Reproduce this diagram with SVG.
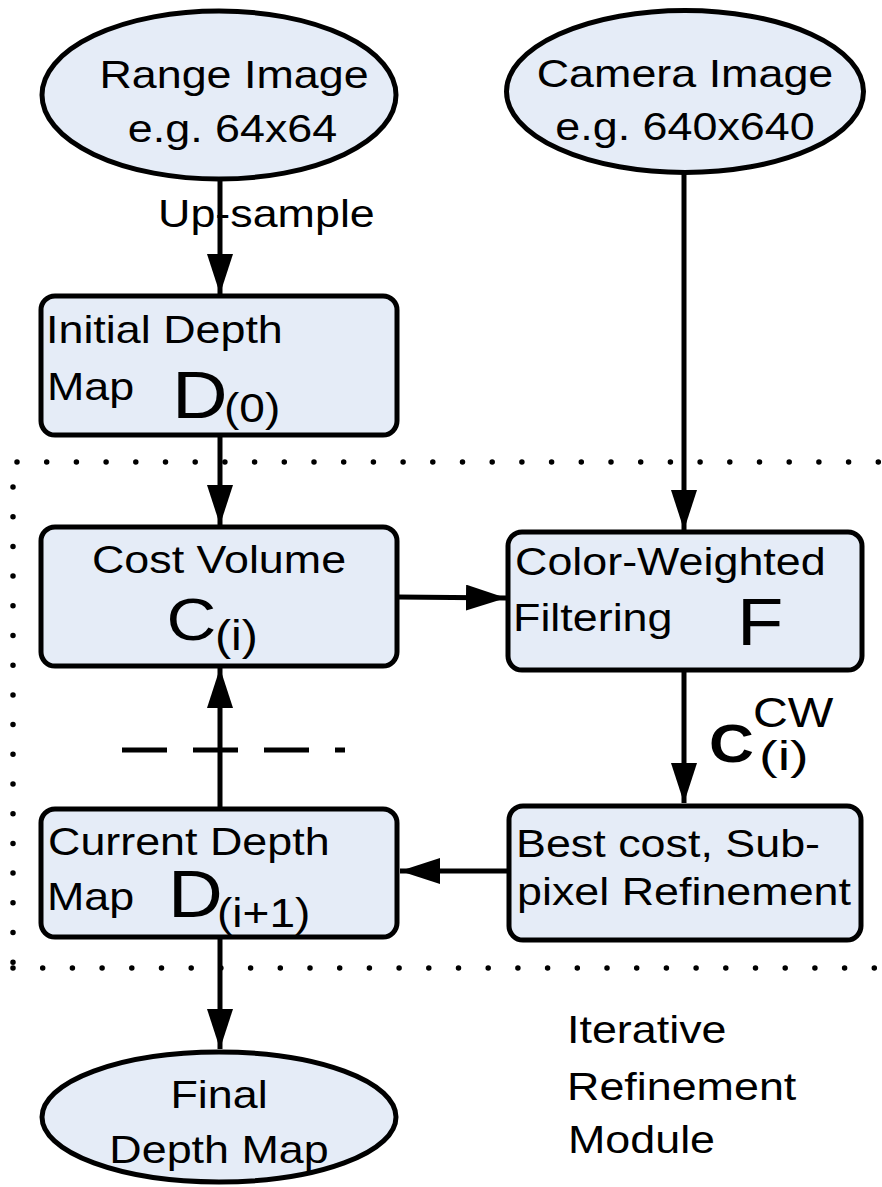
<svg xmlns="http://www.w3.org/2000/svg" width="882" height="1187" viewBox="0 0 882 1187">
<style>
.node{fill:#E5ECF7;stroke:#000;stroke-width:5}
.t{font-family:"Liberation Sans",Arial,sans-serif;font-size:39px;fill:#000}
.c{text-anchor:middle}
.edge{stroke:#000;stroke-width:5;fill:none}
.dot{stroke:#000;stroke-width:5.5;stroke-linecap:round;stroke-dasharray:0 29.7;fill:none}
.dash{stroke:#000;stroke-width:5;stroke-dasharray:45 26;fill:none}
</style>
<defs>
<marker id="ah" markerUnits="userSpaceOnUse" markerWidth="40" markerHeight="26" refX="40" refY="13" orient="auto">
<path d="M0,0 L40,13 L0,26 z" fill="#000"/>
</marker>
</defs>
<rect width="882" height="1187" fill="#fff"/>
<g id="module-frame">
<line class="dot" x1="17" y1="462" x2="880" y2="462"/>
<line class="dot" x1="13" y1="487" x2="13" y2="963"/>
<line class="dot" x1="13" y1="968" x2="876" y2="968"/>
<line class="dash" x1="122" y1="750" x2="345" y2="750"/>
</g>
<g id="connectors">
<line class="edge" x1="220" y1="180" x2="220" y2="294" marker-end="url(#ah)"/>
<line class="edge" x1="220" y1="437" x2="220" y2="525" marker-end="url(#ah)"/>
<line class="edge" x1="684" y1="173" x2="684" y2="530" marker-end="url(#ah)"/>
<line class="edge" x1="398" y1="597" x2="506" y2="598" marker-end="url(#ah)"/>
<line class="edge" x1="684" y1="672" x2="684" y2="803" marker-end="url(#ah)"/>
<line class="edge" x1="508" y1="871" x2="400" y2="871" marker-end="url(#ah)"/>
<line class="edge" x1="220" y1="807" x2="220" y2="668" marker-end="url(#ah)"/>
<line class="edge" x1="220" y1="939" x2="220" y2="1049" marker-end="url(#ah)"/>
<text class="t" transform="translate(158,227) scale(1.15,1)">Up-sample</text>
</g>
<g id="range-image">
<ellipse class="node" cx="219" cy="95" rx="177" ry="84"/>
<text class="t c" transform="translate(234,88) scale(1.15,1)">Range Image</text>
<text class="t c" transform="translate(232.5,142) scale(1.15,1)">e.g. 64x64</text>
</g>
<g id="camera-image">
<ellipse class="node" cx="685" cy="91.5" rx="178.5" ry="81"/>
<text class="t c" transform="translate(685,87) scale(1.15,1)">Camera Image</text>
<text class="t c" transform="translate(685,140) scale(1.15,1)">e.g. 640x640</text>
</g>
<g id="initial-depth">
<rect class="node" x="41" y="296" width="356" height="139" rx="14"/>
<text class="t" transform="translate(46,343) scale(1.15,1)">Initial Depth</text>
<text class="t" transform="translate(47,400) scale(1.15,1)">Map</text>
<text class="t" transform="translate(172,418) scale(1.15,1)" style="font-size:67px">D</text>
<text class="t" transform="translate(224,422) scale(1.15,1)" style="font-size:40px">(0)</text>
</g>
<g id="cost-volume">
<rect class="node" x="41" y="527" width="356" height="139" rx="14"/>
<text class="t c" transform="translate(219,573) scale(1.15,1)">Cost Volume</text>
<text class="t" transform="translate(166.5,640) scale(1.15,1)" style="font-size:60px">C</text>
<text class="t" transform="translate(215,650) scale(1.15,1)" style="font-size:42px">(i)</text>
</g>
<g id="color-weighted">
<rect class="node" x="508" y="532" width="354" height="138" rx="14"/>
<text class="t" transform="translate(515,575) scale(1.15,1)">Color-Weighted</text>
<text class="t" transform="translate(513,631) scale(1.15,1)">Filtering</text>
<text class="t" transform="translate(737,645) scale(1.15,1)" style="font-size:66px">F</text>
</g>
<g id="ccw-label">
<text class="t" transform="translate(709,762) scale(1.15,1)" style="font-size:54px;font-weight:bold">C</text>
<text class="t" transform="translate(753,727) scale(1.15,1)" style="font-size:42px">CW</text>
<text class="t" transform="translate(759,770) scale(1.4,1)" style="font-size:40px">(i)</text>
</g>
<g id="best-cost">
<rect class="node" x="509" y="806" width="352" height="134" rx="14"/>
<text class="t" transform="translate(516,857) scale(1.15,1)">Best cost, Sub-</text>
<text class="t" transform="translate(517,905) scale(1.15,1)">pixel Refinement</text>
</g>
<g id="current-depth">
<rect class="node" x="41" y="809" width="356" height="128" rx="14"/>
<text class="t" transform="translate(48,855) scale(1.15,1)">Current Depth</text>
<text class="t" transform="translate(47,910) scale(1.15,1)">Map</text>
<text class="t" transform="translate(168,917) scale(1.15,1)" style="font-size:66px">D</text>
<text class="t" transform="translate(217,927) scale(1.15,1)" style="font-size:40px">(i+1)</text>
</g>
<g id="final-depth">
<ellipse class="node" cx="219" cy="1117" rx="177" ry="65"/>
<text class="t c" transform="translate(219,1108) scale(1.15,1)">Final</text>
<text class="t c" transform="translate(219,1163) scale(1.15,1)">Depth Map</text>
</g>
<g id="module-label">
<text class="t" transform="translate(567,1043) scale(1.15,1)">Iterative</text>
<text class="t" transform="translate(567,1100) scale(1.15,1)">Refinement</text>
<text class="t" transform="translate(568,1153) scale(1.15,1)">Module</text>
</g>
</svg>
